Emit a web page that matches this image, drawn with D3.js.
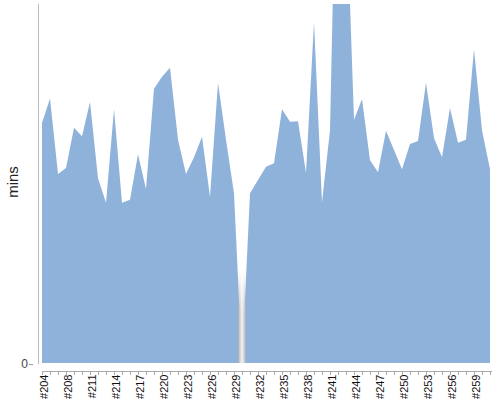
<!DOCTYPE html>
<html>
<head>
<meta charset="utf-8">
<title>build durations</title>
<script src="https://cdn.jsdelivr.net/npm/d3@7"></script>
<style type="text/css">
    body { margin: 0; background-color: white; }
    svg { display: block; }
    .axis path, .axis line { fill: none; stroke: #aaa; shape-rendering: crispEdges; }
    .axis text { font-family: "Liberation Sans", Arial, sans-serif; font-size: 11px; fill: #111; }
</style>
</head>
<body>
<script>
// builds (x categories)
var builds = ["#204", "#206", "#207"];
for (var n = 208; n <= 261; n++) builds.push("#" + n);

// minutes per build
var mins = [40.0, 44.1, 31.5, 32.5, 39.2, 37.8, 43.5, 30.8, 26.7, 42.3,
            26.7, 27.2, 34.8, 29.0, 45.7, 47.7, 49.2, 37.2, 31.5, 34.3,
            37.7, 27.7, 46.7, 37.2, 28.3, 0, 28.3, 30.5, 32.7, 33.3,
            42.3, 40.2, 40.3, 31.7, 56.8, 26.8, 38.8, 101, 79.2, 40.5,
            44.0, 33.8, 31.8, 38.7, 35.5, 32.3, 36.5, 37.0, 46.7, 37.5,
            34.3, 42.5, 36.7, 37.2, 52.3, 38.8, 32.3];

// which builds get a label under the axis
var labelled = builds.filter(function(d, i) { return i % 3 === 0; });

var w = 500;
var h = 400;

var xScale = d3.scalePoint()
    .domain(builds)
    .range([42, 490]);

var yScale = d3.scaleLinear()
    .domain([0, 60])
    .range([363, 3]);

var svg = d3.select("body")
    .append("svg")
    .attr("width", w)
    .attr("height", h);

var defs = svg.append("defs");

defs.append("clipPath")
    .attr("id", "plot-clip")
    .append("rect")
    .attr("x", 42)
    .attr("y", 4)
    .attr("width", 450)
    .attr("height", 360);

var grad = defs.append("linearGradient")
    .attr("id", "gap-grad")
    .attr("x1", "0%").attr("x2", "100%")
    .attr("y1", "0%").attr("y2", "0%");
grad.append("stop").attr("offset", "0%").attr("stop-color", "#b8b8b8");
grad.append("stop").attr("offset", "50%").attr("stop-color", "#f4f4f4");
grad.append("stop").attr("offset", "100%").attr("stop-color", "#b8b8b8");

// fade the marker in from the top
var fade = defs.append("linearGradient")
    .attr("id", "gap-fade")
    .attr("x1", "0%").attr("x2", "0%")
    .attr("y1", "0%").attr("y2", "100%");
fade.append("stop").attr("offset", "0%").attr("stop-color", "white").attr("stop-opacity", 0);
fade.append("stop").attr("offset", "45%").attr("stop-color", "white").attr("stop-opacity", 1);
fade.append("stop").attr("offset", "100%").attr("stop-color", "white").attr("stop-opacity", 1);

var area = d3.area()
    .x(function(d, i) { return xScale(builds[i]); })
    .y0(yScale(0))
    .y1(function(d) { return yScale(d); });

svg.append("path")
    .datum(mins)
    .attr("clip-path", "url(#plot-clip)")
    .attr("fill", "#8fb2db")
    .attr("d", area);

// grey marker on the build with no time
var gapIdx = mins.indexOf(0);
var gx0 = xScale(builds[gapIdx]);
defs.append("mask")
    .attr("id", "gap-mask")
    .attr("maskUnits", "userSpaceOnUse")
    .attr("x", gx0 - 4).attr("y", 270)
    .attr("width", 8).attr("height", yScale(0) - 270)
    .append("rect")
    .attr("x", gx0 - 4).attr("y", 270)
    .attr("width", 8).attr("height", yScale(0) - 270)
    .attr("fill", "url(#gap-fade)");

svg.append("rect")
    .attr("x", gx0 - 3.5)
    .attr("y", 270)
    .attr("width", 7)
    .attr("height", yScale(0) - 270)
    .attr("mask", "url(#gap-mask)")
    .attr("fill", "url(#gap-grad)");

// y axis: just the line and a zero
svg.append("line")
    .attr("x1", 38.5).attr("x2", 38.5)
    .attr("y1", 4).attr("y2", 364)
    .attr("stroke", "#bbb");

svg.append("line")
    .attr("x1", 29).attr("x2", 33)
    .attr("y1", 364.5).attr("y2", 364.5)
    .attr("stroke", "#999");

svg.append("text")
    .attr("x", 28)
    .attr("y", 368)
    .attr("text-anchor", "end")
    .style("font-family", "Liberation Sans, Arial, sans-serif")
    .style("font-size", "12px")
    .style("fill", "#444")
    .text("0");

svg.append("text")
    .attr("transform", "translate(18,182) rotate(-90)")
    .attr("text-anchor", "middle")
    .style("font-family", "Liberation Sans, Arial, sans-serif")
    .style("font-size", "15px")
    .style("fill", "#222")
    .text("mins");

// x axis, tick on every build, label every third
var xAxis = d3.axisBottom(xScale)
    .tickValues(builds)
    .tickSize(3)
    .tickSizeOuter(0)
    .tickFormat(function(d) { return labelled.indexOf(d) >= 0 ? d : ""; });

var gx = svg.append("g")
    .attr("class", "x axis")
    .attr("transform", "translate(0,371.5)")
    .call(xAxis);

gx.select(".domain").attr("d", "M42,0H492");

gx.selectAll("text")
    .attr("transform", "rotate(-90)")
    .attr("text-anchor", "end")
    .attr("x", -3)
    .attr("y", 5)
    .attr("dy", 0);
</script>
</body>
</html>
